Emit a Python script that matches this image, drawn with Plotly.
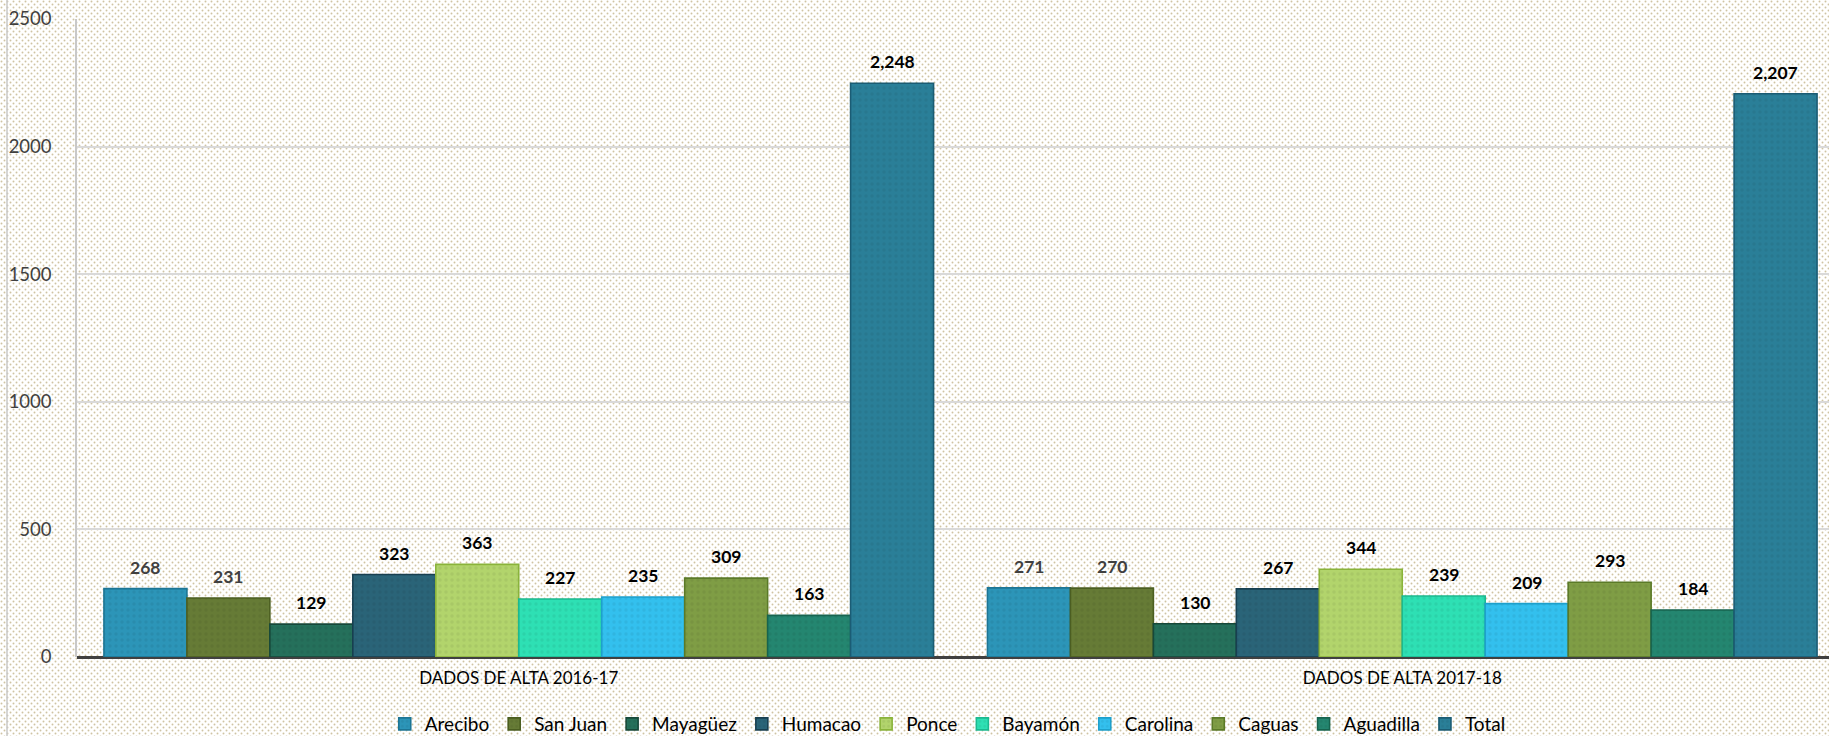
import base64
import plotly.graph_objects as go

# ---------------- data ----------------
categories = ["DADOS DE ALTA 2016-17", "DADOS DE ALTA 2017-18"]
series_names = ["Arecibo", "San Juan", "Mayagüez", "Humacao", "Ponce",
                "Bayamón", "Carolina", "Caguas", "Aguadilla", "Total"]
arecibo = [268, 271]
san_juan = [231, 270]
mayaguez = [129, 130]
humacao = [323, 267]
ponce = [363, 344]
bayamon = [227, 239]
carolina = [235, 209]
caguas = [309, 293]
aguadilla = [163, 184]
total = [2248, 2207]
series_values = [arecibo, san_juan, mayaguez, humacao, ponce,
                 bayamon, carolina, caguas, aguadilla, total]
y_ticks = [0, 500, 1000, 1500, 2000, 2500]

# ---------------- styles ----------------
fills = ["#2c95b8", "#667b36", "#25705b", "#2a6478", "#b2d46c",
         "#2ee0b4", "#33c0ee", "#7f9d45", "#248670", "#2a7f98"]
lines = ["#1d7594", "#4b5e21", "#17483a", "#183f50", "#8ab33b",
         "#1cb990", "#1ea0cc", "#5b7a28", "#17644f", "#1b5c74"]
label_colors = ["#404040", "#404040"] + ["#000000"] * 8

W, H = 1829, 736
ML, MR, MT, MB = 77, 0, 19, 79
PW, PH = W - ML - MR, H - MT - MB
BARGAP = 0.061
slot_px = 883.5
x_max = PW / slot_px - 0.5

FONT = "Lato, Calibri, 'Open Sans', sans-serif"

fig = go.Figure()
n = len(series_names)
bw = (1 - BARGAP) / n
for i, (name, vals) in enumerate(zip(series_names, series_values)):
    fig.add_trace(go.Bar(
        name=name, x=categories, y=vals,
        marker=dict(color=fills[i], line=dict(color=lines[i], width=1.6),
                    pattern=dict(shape=".", fgcolor="#000000", fgopacity=0.06,
                                 size=6, solidity=0.25)),
        hoverinfo="x+y+name",
    ))
    for c, v in enumerate(vals):
        xc = c - (1 - BARGAP) / 2 + (i + 0.5) * bw
        fig.add_annotation(
            x=xc, y=v, xref="x", yref="y", text=f"<b>{v:,}</b>",
            showarrow=False, yanchor="bottom", yshift=9,
            font=dict(family=FONT, size=17.5, color=label_colors[i]),
        )

# dotted background via svg pattern
svg = (f'<svg xmlns="http://www.w3.org/2000/svg" width="{W}" height="{H}">'
       '<defs><pattern id="p" width="6" height="6" patternUnits="userSpaceOnUse">'
       '<rect width="6" height="6" fill="#ffffff"/>'
       '<circle cx="1.5" cy="1.5" r="0.95" fill="#cfc4a3"/>'
       '<circle cx="4.5" cy="4.5" r="0.95" fill="#cfc4a3"/>'
       '</pattern></defs><rect width="100%" height="100%" fill="url(#p)"/></svg>')
src = "data:image/svg+xml;base64," + base64.b64encode(svg.encode()).decode()
fig.add_layout_image(dict(
    source=src, xref="paper", yref="paper",
    x=-ML / PW, y=1 + MT / PH, sizex=W / PW, sizey=H / PH,
    xanchor="left", yanchor="top", sizing="stretch", layer="below", opacity=1,
))

# left chart border
fig.add_shape(type="line", xref="paper", yref="paper",
              x0=(7 - ML) / PW, x1=(7 - ML) / PW, y0=-MB / PH, y1=1 + MT / PH,
              line=dict(color="#c8c8c8", width=1.5), layer="below")

fig.update_layout(
    width=W, height=H,
    margin=dict(l=ML, r=MR, t=MT, b=MB, pad=0, autoexpand=False),
    barmode="group", bargap=BARGAP, bargroupgap=0,
    paper_bgcolor="#ffffff", plot_bgcolor="rgba(0,0,0,0)",
    font=dict(family=FONT, color="#404040"),
    showlegend=True,
    legend=dict(orientation="h", x=0.497, xanchor="center", y=-(724 - (MT + PH)) / PH,
                yanchor="middle", font=dict(family=FONT, size=19, color="#000000"),
                bgcolor="rgba(0,0,0,0)", itemwidth=30, traceorder="normal"),
    xaxis=dict(type="category", range=[-0.5, x_max], showgrid=False,
               tickfont=dict(family=FONT, size=17, color="#000000"),
               ticks="", showline=False, zeroline=False, ticklabelstandoff=9),
    yaxis=dict(range=[0, 2500], tickvals=y_ticks, showgrid=True,
               gridcolor="#d9d9d9", gridwidth=1.5,
               showline=True, linecolor="#c8c8c8", linewidth=1.5,
               zeroline=True, zerolinecolor="#404040", zerolinewidth=3,
               tickfont=dict(family=FONT, size=18.5, color="#404040"),
               ticks="", ticklabelstandoff=20),
)

fig.write_html("out.html", config={"displayModeBar": False},
               post_script="document.body.style.margin='0';")
